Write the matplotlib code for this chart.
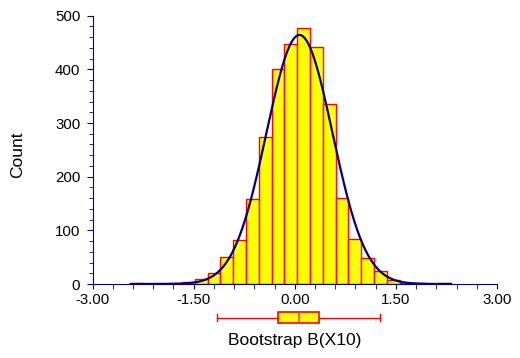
import numpy as np
import matplotlib.pyplot as plt
from matplotlib.ticker import MultipleLocator

plt.rcParams["font.family"] = ["Liberation Sans", "DejaVu Sans"]

# histogram of bootstrap estimates (bin left edges, counts)
bin_width = 0.19
bin_left = [-2.434, -2.244, -2.054, -1.864, -1.674, -1.484, -1.294, -1.104,
            -0.914, -0.724, -0.534, -0.344, -0.154, 0.036, 0.226, 0.416,
            0.606, 0.796, 0.986, 1.176, 1.366, 1.556, 1.746, 1.936, 2.126]
counts = [1, 0, 0, 1, 3, 9, 20, 50, 82, 158, 274, 401, 448, 478, 442, 335,
          160, 83, 48, 24, 8, 2, 1, 0, 1]

# fitted normal curve
fit_mean = 0.07
fit_sd = 0.49
n_boot = 3000
data_min, data_max = -2.434, 2.317

# box plot summary
box_stats = [{"whislo": -1.15, "q1": -0.25, "med": 0.06, "q3": 0.36,
              "whishi": 1.27, "fliers": []}]

xticks = [-3.0, -1.5, 0.0, 1.5, 3.0]
navy = "#000080"

W, H = 520, 358
fig = plt.figure(figsize=(W / 100, H / 100), dpi=100)
ax = fig.add_axes([92.5 / W, 1 - 284 / H, 404.5 / W, 268.3 / H])

ax.bar(bin_left, counts, width=bin_width, align="edge",
       color="#ffff00", edgecolor="#ff0000", linewidth=1.0, zorder=2)

xs = np.linspace(data_min, data_max, 400)
ys = n_boot * bin_width / (fit_sd * np.sqrt(2 * np.pi)) * \
    np.exp(-0.5 * ((xs - fit_mean) / fit_sd) ** 2)
ax.plot(xs, ys, color=navy, linewidth=1.6, zorder=3)

ax.set_xlim(-3, 3)
ax.set_ylim(0, 500)
ax.set_xticks(xticks)
ax.set_xticklabels([f"{t:.2f}" for t in xticks])
ax.xaxis.set_minor_locator(MultipleLocator(0.3))
ax.yaxis.set_major_locator(MultipleLocator(100))
ax.yaxis.set_minor_locator(MultipleLocator(20))
for side in ["top", "right"]:
    ax.spines[side].set_visible(False)
for side in ["left", "bottom"]:
    ax.spines[side].set_color(navy)
    ax.spines[side].set_zorder(4)
ax.tick_params(axis="y", which="major", length=4.3, color=navy, labelsize=10.8, pad=4.5)
ax.tick_params(axis="y", which="minor", length=3.1, color=navy)
ax.tick_params(axis="x", which="both", length=3.3, color=navy, labelsize=10.8, pad=3)
ax.patch.set_visible(False)

fig.text(18 / W, 1 - 154.5 / H, "Count", rotation=90, ha="center", va="center",
         fontsize=12.5)

bax = fig.add_axes([92.5 / W, 1 - 330 / H, 404.5 / W, 25 / H])
bax.bxp(box_stats, positions=[0.5], widths=0.46, orientation="horizontal",
        patch_artist=True, showfliers=False, capwidths=0.28,
        boxprops={"facecolor": "#ffff00", "edgecolor": "#ff0000", "linewidth": 1.2},
        medianprops={"color": "#ff4000", "linewidth": 1.2},
        whiskerprops={"color": "#ff0000", "linewidth": 1.0},
        capprops={"color": "#ff0000", "linewidth": 1.0})
bax.set_xlim(-3, 3)
bax.set_ylim(0, 1)
bax.axis("off")

fig.text(295 / W, 1 - 341 / H, "Bootstrap B(X10)", ha="center", va="center",
         fontsize=12.5)

fig.savefig("out.png", dpi=100)
